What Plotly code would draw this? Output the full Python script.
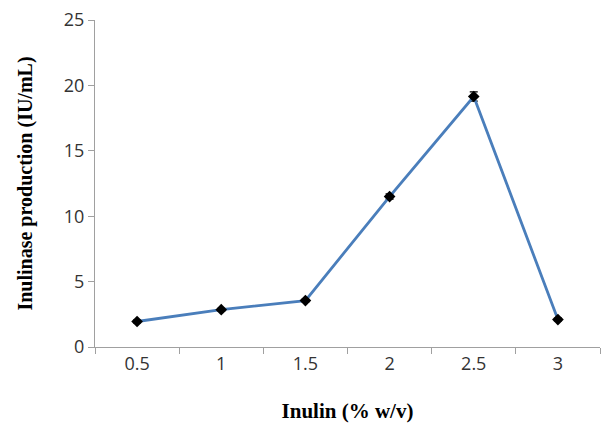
import plotly.graph_objects as go

inulin = ["0.5", "1", "1.5", "2", "2.5", "3"]
production = [1.95, 2.85, 3.55, 11.5, 19.15, 2.1]
errors = [0.1, 0.1, 0.1, 0.2, 0.35, 0.1]
y_ticks = [0, 5, 10, 15, 20, 25]

fig = go.Figure()
fig.add_trace(go.Scatter(
    x=inulin, y=production,
    mode="lines+markers",
    line=dict(color="#4a7ebb", width=2.8),
    marker=dict(symbol="diamond", size=9, color="black"),
    error_y=dict(type="data", array=errors, visible=True, color="black", thickness=1.2, width=4),
))

fig.update_layout(
    width=608, height=423,
    margin=dict(l=95, r=8, t=20, b=76),
    plot_bgcolor="white", paper_bgcolor="white",
    showlegend=False,
    xaxis=dict(
        type="category", range=[-0.5, 5.5], tickson="boundaries", ticks="outside", ticklen=6,
        tickcolor="#a0a0a0", showline=True, linecolor="#a0a0a0", linewidth=1,
        showgrid=False, zeroline=False, automargin=False,
        tickfont=dict(family="Open Sans", size=18, color="#333333"),
        title=dict(text="<b>Inulin (% w/v)</b>", standoff=30,
                   font=dict(family="Liberation Serif", size=21, color="black")),
    ),
    yaxis=dict(
        range=[0, 25], tickvals=y_ticks, ticks="outside", ticklen=6,
        tickcolor="#a0a0a0", showline=True, linecolor="#a0a0a0", linewidth=1,
        showgrid=False, zeroline=False, automargin=False,
        tickfont=dict(family="Open Sans", size=18, color="#333333"),
        title=dict(text="<b>Inulinase production (IU/mL)</b>", standoff=25,
                   font=dict(family="Liberation Serif", size=20, color="black")),
    ),
)

fig.write_html("out.html")
